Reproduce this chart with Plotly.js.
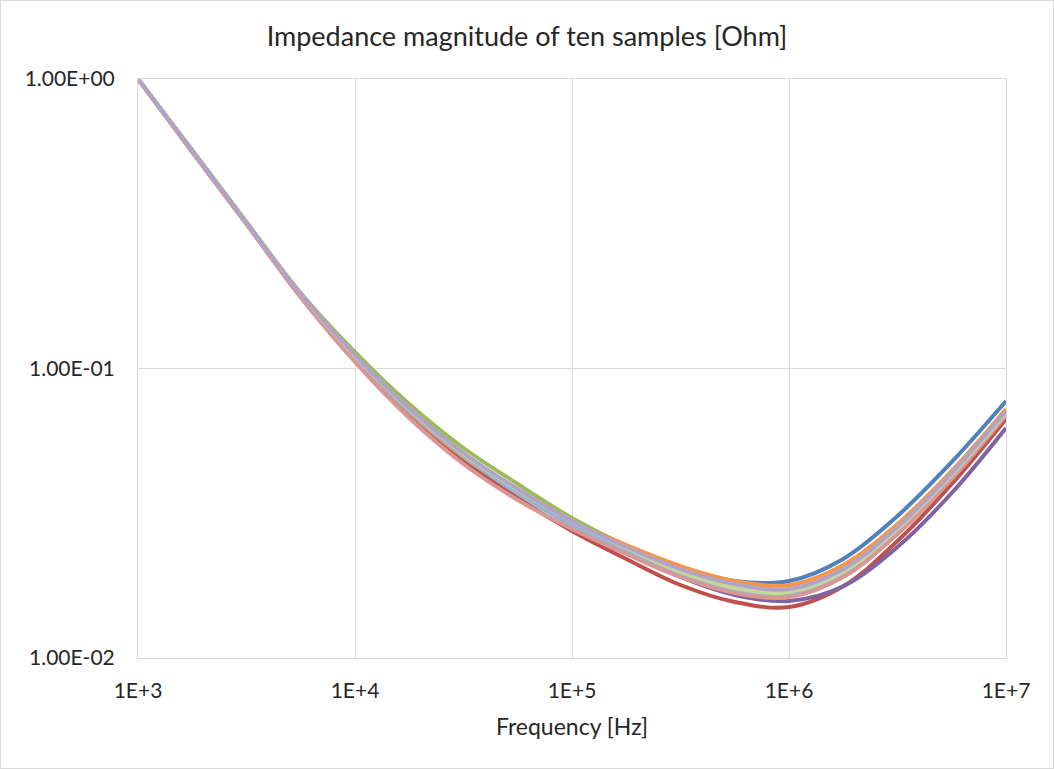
<!DOCTYPE html>
<html>
<head>
<meta charset="utf-8">
<script src="https://cdn.plot.ly/plotly-3.0.1.min.js"></script>
<style>
  html, body { margin: 0; padding: 0; background: #fff; }
  #wrap { position: relative; width: 1054px; height: 769px; }
  #chart { width: 1054px; height: 769px; }
  #frame { position: absolute; left: 0; top: 0; width: 1054px; height: 769px; box-sizing: border-box; border: 1px solid #D9D9D9; pointer-events: none; }
</style>
</head>
<body>
<div id="wrap"><div id="chart"></div><div id="frame"></div></div>
<script>
// Frequency points [Hz]
const freq = [1e3, 1.778e3, 3.162e3, 5.623e3, 1e4, 1.778e4, 3.162e4, 5.623e4, 1e5, 1.778e5, 3.162e5, 5.623e5, 1e6, 1.778e6, 3.162e6, 5.623e6, 1e7];

// Impedance magnitude [Ohm] of ten samples
const sample1 = [1.000,0.5640,0.3181,0.1794,0.1087,0.07131,0.04986,0.03775,0.02950,0.02437,0.02062,0.01845,0.01845,0.02199,0.03094,0.04754,0.07722];
const sample2 = [1.000,0.5595,0.3156,0.1766,0.1062,0.06853,0.04792,0.03570,0.02746,0.02198,0.01787,0.01561,0.01500,0.01770,0.02536,0.03991,0.06692];
const sample3 = [1.000,0.5685,0.3207,0.1823,0.1140,0.07540,0.05314,0.03991,0.03045,0.02437,0.01998,0.01745,0.01677,0.01967,0.02768,0.04253,0.06964];
const sample4 = [1.000,0.5640,0.3181,0.1794,0.1096,0.07131,0.05026,0.03775,0.02903,0.02342,0.01905,0.01651,0.01574,0.01770,0.02418,0.03715,0.06230];
const sample5 = [1.000,0.5640,0.3181,0.1794,0.1096,0.07076,0.04947,0.03715,0.02880,0.02342,0.01951,0.01718,0.01664,0.01951,0.02724,0.04185,0.06908];
const sample6 = [1.000,0.5640,0.3181,0.1794,0.1087,0.07076,0.04947,0.03745,0.02950,0.02457,0.02078,0.01845,0.01787,0.02096,0.02903,0.04426,0.07247];
const sample7 = [1.000,0.5640,0.3181,0.1794,0.1096,0.07131,0.04986,0.03715,0.02880,0.02324,0.01935,0.01704,0.01651,0.01936,0.02724,0.04219,0.06964];
const sample8 = [1.000,0.5595,0.3156,0.1766,0.1053,0.06745,0.04679,0.03514,0.02790,0.02287,0.01905,0.01677,0.01624,0.01905,0.02681,0.04152,0.06908];
const sample9 = [1.000,0.5640,0.3181,0.1809,0.1104,0.07247,0.05066,0.03805,0.02973,0.02399,0.01982,0.01745,0.01690,0.01982,0.02790,0.04287,0.07019];
const sample10 = [1.000,0.5640,0.3181,0.1809,0.1113,0.07304,0.05106,0.03835,0.02973,0.02418,0.02029,0.01802,0.01731,0.02029,0.02835,0.04355,0.07131];

const seriesNames = ["Sample 1","Sample 2","Sample 3","Sample 4","Sample 5","Sample 6","Sample 7","Sample 8","Sample 9","Sample 10"];
const seriesValues = [sample1, sample2, sample3, sample4, sample5, sample6, sample7, sample8, sample9, sample10];
const seriesColors = ["#4F81BD","#C0504D","#9BBB59","#8064A2","#4BACC6","#F79646","#95B3D7","#D99694","#C3D69B","#B3A2C7"];

const xTickVals = [1e3, 1e4, 1e5, 1e6, 1e7];
const xTickText = ["1E+3","1E+4","1E+5","1E+6","1E+7"];
const yTickVals = [0.01, 0.1, 1];
const yTickText = ["1.00E-02","1.00E-01","1.00E+00"];

const traces = seriesValues.map((v, i) => ({
  x: freq, y: v, name: seriesNames[i], type: 'scatter', mode: 'lines',
  line: { color: seriesColors[i], width: 4, shape: 'spline', smoothing: 1 },
  hoverinfo: 'x+y+name'
}));

const font = "Lato, 'Open Sans', sans-serif";
const layout = {
  width: 1054, height: 769,
  margin: { l: 138, r: 48, t: 79, b: 111 },
  paper_bgcolor: '#ffffff', plot_bgcolor: '#ffffff',
  showlegend: false,
  title: { text: 'Impedance magnitude of ten samples [Ohm]', x: 0.5, xref: 'container', xanchor: 'center', y: 1 - 37/769, yref: 'container', yanchor: 'middle', font: { family: font, size: 27, color: '#262626' } },
  xaxis: {
    type: 'log', range: [3, 7], tickvals: xTickVals, ticktext: xTickText,
    showgrid: true, gridcolor: '#D9D9D9', gridwidth: 1,
    showline: true, linecolor: '#D9D9D9', mirror: true, zeroline: false,
    ticks: '', ticklabelstandoff: 14,
    tickfont: { family: font, size: 21, color: '#262626' },
    title: { text: 'Frequency [Hz]', standoff: 17, font: { family: font, size: 23, color: '#262626' } },
    automargin: false
  },
  yaxis: {
    type: 'log', range: [-2, 0], tickvals: yTickVals, ticktext: yTickText,
    showgrid: true, gridcolor: '#D9D9D9', gridwidth: 1,
    showline: true, linecolor: '#D9D9D9', mirror: true, zeroline: false,
    ticks: '', ticklabelstandoff: 18,
    tickfont: { family: font, size: 21, color: '#262626' },
    automargin: false
  }
};

Plotly.newPlot('chart', traces, layout, { displayModeBar: false, staticPlot: true });
</script>
</body>
</html>
